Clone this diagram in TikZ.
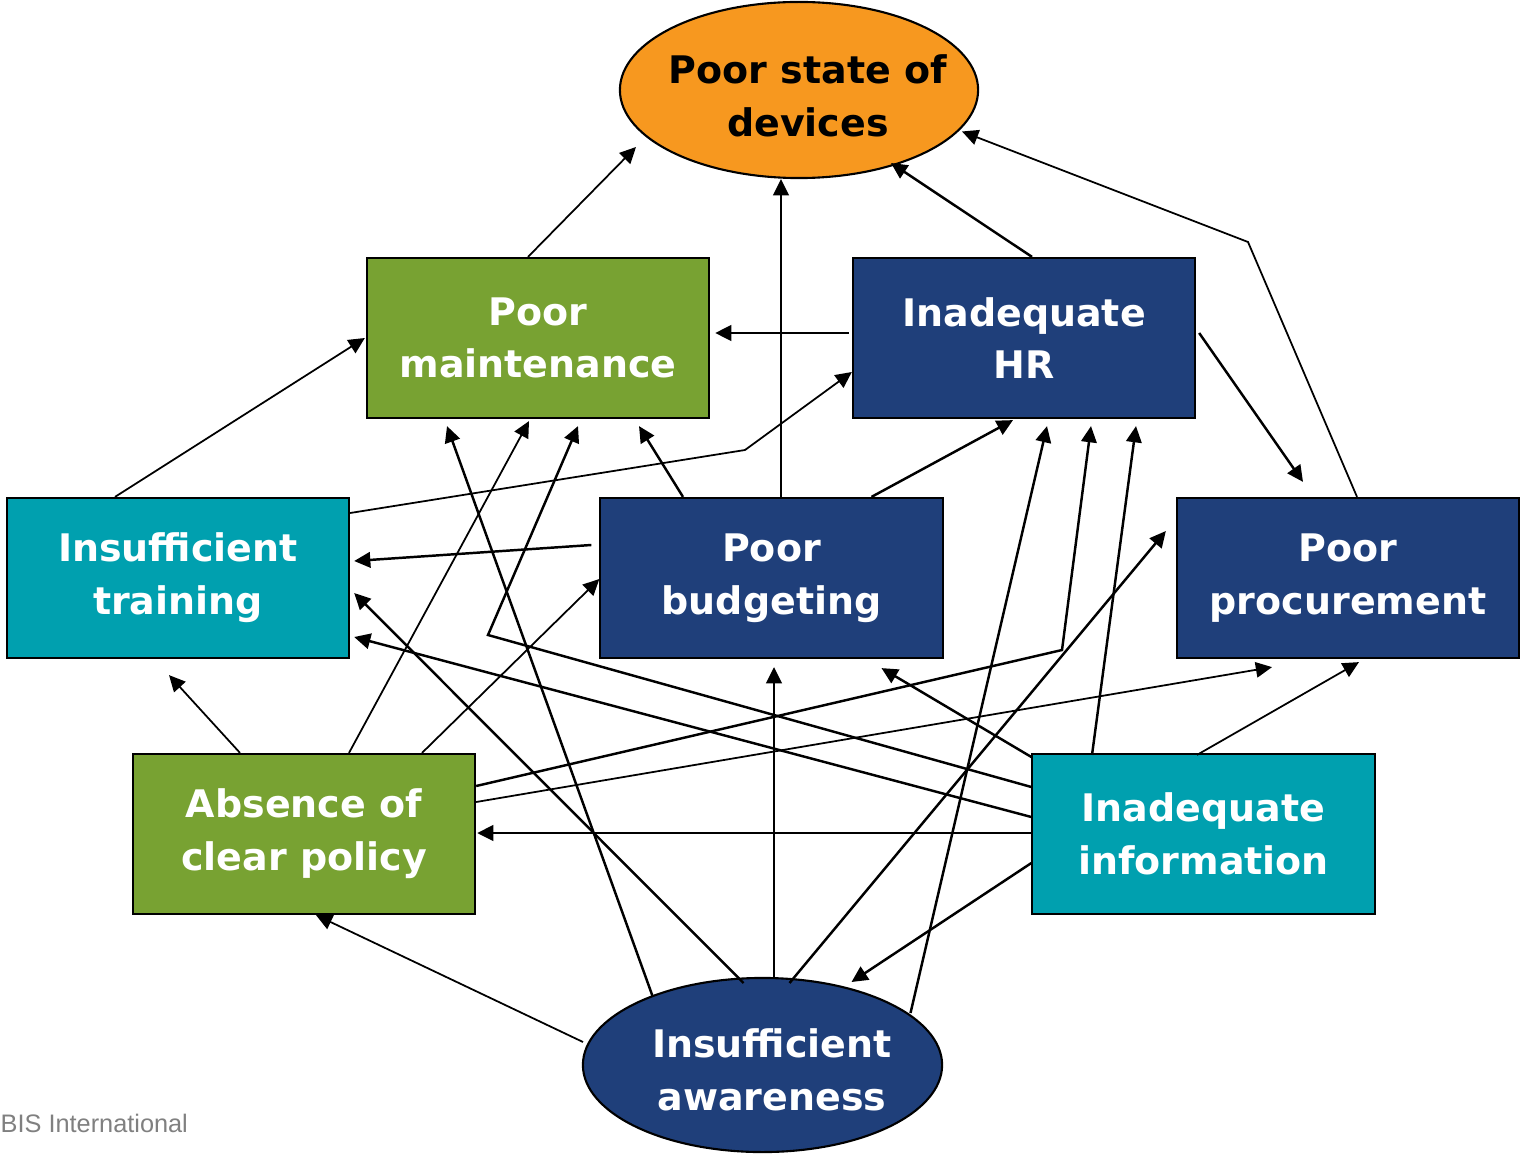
\documentclass[tikz,border=0pt]{standalone}
\usepackage{fontspec}
\setmainfont{DejaVu Sans}
\newfontfamily\bisfont{Liberation Sans}
\usepackage{tikz}
\usetikzlibrary{shapes.geometric, calc, arrows.meta}

\definecolor{orangefill}{HTML}{F7981F}
\definecolor{greenfill}{HTML}{78A232}
\definecolor{navyfill}{HTML}{1F3F7A}
\definecolor{tealfill}{HTML}{00A0AF}

\begin{document}
\begin{tikzpicture}[x=0.01cm, y=-0.01cm, >={Triangle[length=4.6pt,width=4.4pt]}, % pixel grid, y down
    cause/.style={draw, line width=0.6pt, minimum width=3.42cm, minimum height=1.6cm, inner sep=0pt,
                  align=center, text=white, font=\bfseries\fontsize{10.8}{15}\selectfont},
    oval/.style={draw, ellipse, line width=0.6pt, inner sep=0pt},
    ovaltext/.style={align=center, inner sep=0pt, font=\bfseries\fontsize{10.8}{15}\selectfont},
    link/.style={->, line width=0.7pt},
    thinlink/.style={->, line width=0.5pt}]
                    \useasboundingbox (0,0) rectangle (1522,1155);

                    % Effect at the top
                    \node[oval, fill=orangefill, minimum width=3.58cm, minimum height=1.76cm] (state) at (799,90) {};
                    \node[ovaltext] (statetxt) at (808,96) {Poor state of\\devices};

                    % Causes
                    \node[cause, fill=greenfill] (maint) at (538,338) {Poor\\maintenance};
                    \node[cause, fill=navyfill] (hr) at (1024,338) {Inadequate\\HR};
                    \node[cause, fill=tealfill] (train) at (178,578) {Insufficient\\training};
                    \node[cause, fill=navyfill] (budget) at (771.5,578) {Poor\\budgeting};
                    \node[cause, fill=navyfill] (proc) at (1348,578) {Poor\\procurement};
                    \node[cause, fill=greenfill] (policy) at (304,834) {Absence of\\clear policy};
                    \node[cause, fill=tealfill] (info) at (1203.5,834) {Inadequate\\information};

                    % Root cause at the bottom
                    \node[oval, fill=navyfill, minimum width=3.59cm, minimum height=1.74cm] (aware) at (762.5,1065) {};
                    \node[ovaltext, text=white] (awaretxt) at (772,1070) {Insufficient\\awareness};

                    \node[font=\bisfont\fontsize{7.2}{9}\selectfont, text=gray, anchor=west, inner sep=0pt] (bis) at (0,1123) {BIS International};

                    % Bends of the elbowed links
                    \coordinate (procbend) at (1248,242);
                    \coordinate (trainbend) at (745,450);
                    \coordinate (policybend) at (1062,650);
                    \coordinate (infobend) at (488,635);

                    % Links into the top effect
                    \draw[thinlink] ($(maint.north)+(-10,0)$) -- ($(state)+(-163,57)$);
                    \draw[link] ($(budget.north)+(9.5,0)$) -- ($(state.south)+(-18,0)$);
                    \draw[link] ($(hr.north)+(8,0)$) -- ($(state)+(92,73)$);
                    \draw[thinlink] ($(proc.north)+(9,0)$) -- (procbend) -- ($(state)+(163,41.5)$);

                    % Links between the middle rows
                    \draw[link] ($(hr.west)+(-3,-5)$) -- ($(maint.east)+(5,-5)$);
                    \draw[thinlink] ($(train.north)+(-63,0)$) -- ($(maint.west)+(-1,0)$);
                    \draw[thinlink] ($(train.east)+(0,-65)$) -- (trainbend) -- ($(hr.west)+(0,34)$);
                    \draw[link] ($(budget.west)+(-8,-33)$) -- ($(train.east)+(4,-17)$);
                    \draw[link] ($(budget.north)+(-88.5,0)$) -- ($(maint.south)+(101,7)$);
                    \draw[link] ($(budget.north)+(100,0)$) -- ($(hr.south)+(-11,1)$);
                    \draw[link] ($(hr.east)+(3,-5)$) -- ($(proc.north)+(-45,-15)$);

                    % Links from the policy box
                    \draw[thinlink] ($(policy.north)+(-64,0)$) -- ($(train.south)+(-9,16)$);
                    \draw[thinlink] ($(policy.north)+(45,0)$) -- ($(maint.south)+(-9,2)$);
                    \draw[thinlink] ($(policy.north)+(118,0)$) -- ($(budget.west)+(0,1)$);
                    \draw[link] ($(policy.east)+(0,-48)$) -- (policybend) -- ($(hr.south)+(67,7)$);
                    \draw[thinlink] ($(policy.east)+(0,-32)$) -- ($(proc.south)+(-76,8)$);

                    % Links from the information box
                    \draw[link] ($(info.west)+(0,-1)$) -- ($(policy.east)+(1,-1)$);
                    \draw[link] ($(info.west)+(0,-47)$) -- (infobend) -- ($(maint.south)+(40,7)$);
                    \draw[link] ($(info.west)+(0,-17)$) -- ($(train.east)+(4,59)$);
                    \draw[link] ($(info.west)+(0,-77)$) -- ($(budget.south)+(110,9)$);
                    \draw[link] ($(info.north)+(-111.5,2)$) -- ($(hr.south)+(112,7)$);
                    \draw[thinlink] ($(info.north)+(-6.5,2)$) -- ($(proc.south)+(11,3)$);
                    \draw[link] ($(info.west)+(0,29)$) -- ($(aware)+(89,-83)$);

                    % Links from the awareness oval
                    \draw[thinlink] ($(aware)+(-179.5,-23)$) -- ($(policy.south)+(12,0)$);
                    \draw[link] ($(aware)+(-110,-69)$) -- ($(maint.south)+(-91,7)$);
                    \draw[link] ($(aware)+(-19,-82)$) -- ($(train.east)+(4,15)$);
                    \draw[link] ($(aware)+(11.5,-87)$) -- ($(budget.south)+(2.5,8)$);
                    \draw[link] ($(aware)+(27,-82)$) -- ($(proc.west)+(-10,-47)$);
                    \draw[link] ($(aware)+(148,-52)$) -- ($(hr.south)+(23,7)$);

                \end{tikzpicture}
\end{document}
